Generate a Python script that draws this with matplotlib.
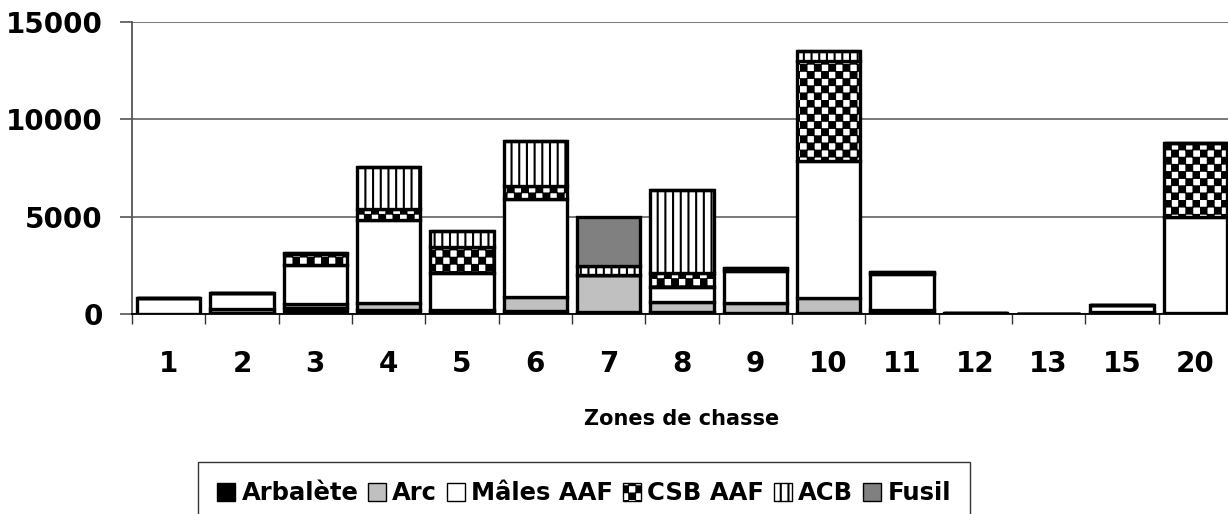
import numpy as np
import matplotlib
matplotlib.use("Agg")
import matplotlib.pyplot as plt
import matplotlib.hatch as mhatch
from matplotlib.path import Path

# ---------------- data ----------------
zones = ['1', '2', '3', '4', '5', '6', '7', '8', '9', '10', '11', '12', '13', '15', '20']
arbalete = [0, 50, 330, 200, 100, 150, 80, 80, 50, 60, 40, 0, 0, 100, 30]
arc = [0, 200, 170, 390, 130, 740, 1920, 550, 500, 780, 160, 0, 0, 0, 30]
males_aaf = [830, 850, 2020, 4240, 1890, 5020, 0, 740, 1680, 7040, 1870, 40, 0, 360, 4900]
csb_aaf = [0, 0, 550, 540, 1310, 670, 0, 720, 80, 5130, 60, 0, 0, 0, 3810]
acb = [0, 0, 50, 2190, 820, 2290, 470, 4300, 60, 510, 50, 0, 0, 0, 0]
fusil = [0, 0, 0, 0, 0, 0, 2530, 0, 0, 0, 0, 0, 0, 0, 0]
series_names = ['Arbalète', 'Arc', 'Mâles AAF', 'CSB AAF', 'ACB', 'Fusil']
y_ticks = [0, 5000, 10000, 15000]


# ---------------- custom hatches (checkerboard + vertical stripes) ----------------
class Checker(mhatch.HatchPatternBase):
    def __init__(self, hatch, density):
        self.n = 14 if '*' in hatch else 0
        self.cells = [(i, j) for i in range(self.n) for j in range(self.n) if (i + j) % 2 == 0]
        self.num_vertices = len(self.cells) * 5

    def set_vertices_and_codes(self, vertices, codes):
        n = self.n
        s = 1.0 / n
        d = 0.0065
        k = 0
        for i, j in self.cells:
            x0, y0 = i * s + d, j * s + d
            x1, y1 = (i + 1) * s - d, (j + 1) * s - d
            vertices[k:k + 5] = [(x0, y0), (x1, y0), (x1, y1), (x0, y1), (x0, y0)]
            codes[k] = Path.MOVETO
            codes[k + 1:k + 4] = Path.LINETO
            codes[k + 4] = Path.CLOSEPOLY
            k += 5


class VLines(mhatch.HatchPatternBase):
    def __init__(self, hatch, density):
        self.n = 13 if '|' in hatch else 0
        self.num_vertices = self.n * 2

    def set_vertices_and_codes(self, vertices, codes):
        xs = np.arange(self.n) / self.n + 0.5 / self.n
        vertices[0::2, 0] = xs
        vertices[0::2, 1] = 0.0
        vertices[1::2, 0] = xs
        vertices[1::2, 1] = 1.0
        codes[0::2] = Path.MOVETO
        codes[1::2] = Path.LINETO


mhatch._hatch_types = [Checker, VLines]

plt.rcParams['hatch.linewidth'] = 1.5
plt.rcParams['hatch.color'] = 'black'
plt.rcParams['font.family'] = ['DejaVu Sans']
plt.rcParams['font.weight'] = 'bold'

# ---------------- figure ----------------
W, H = 1228, 514
fig = plt.figure(figsize=(W / 100, H / 100), dpi=100)
ax = fig.add_axes([132 / W, 1 - 314 / H, 1100 / W, (314 - 22) / H])

x = np.arange(len(zones))
width = 0.86
faces = ['black', '#c0c0c0', 'white', 'white', 'white', '#808080']
hatches = [None, None, None, '*', '|', None]
data = [arbalete, arc, males_aaf, csb_aaf, acb, fusil]

bottom = np.zeros(len(zones))
handles = []
for name, vals, fc, h in zip(series_names, data, faces, hatches):
    vals = np.array(vals, dtype=float)
    b = ax.bar(x, vals, width, bottom=bottom, color=fc, edgecolor='black',
               linewidth=2.4, hatch=h, label=name, zorder=3)
    bottom += vals
    handles.append(b)

ax.set_xlim(-0.5, len(zones) - 0.5)
ax.set_ylim(0, 15000)
ax.set_yticks(y_ticks)
ax.set_yticklabels([str(v) for v in y_ticks], fontsize=20, fontweight='bold')
ax.yaxis.grid(True, color='#6e6e6e', linewidth=1.3, zorder=0)
ax.set_axisbelow(True)
ax.tick_params(axis='y', length=9, width=1.2, color='#555555', pad=12)

ax.set_xticks(x)
ax.set_xticklabels(zones, fontsize=20, fontweight='bold')
ax.tick_params(axis='x', which='major', length=0, pad=26)
ax.set_xticks(np.arange(-0.5, len(zones), 1), minor=True)
ax.tick_params(axis='x', which='minor', length=7, width=1.0, color='#333333')

for s in ['top', 'right']:
    ax.spines[s].set_visible(False)
ax.spines['left'].set_color('#555555')
ax.spines['left'].set_linewidth(1.3)
ax.spines['bottom'].set_color('black')
ax.spines['bottom'].set_linewidth(1.3)

ax.set_xlabel('Zones de chasse', fontsize=15, fontweight='bold', labelpad=22)

leg = fig.legend(handles=handles, labels=series_names, loc='upper center',
                 bbox_to_anchor=(584 / W, 1 - 462 / H), ncol=6, frameon=True,
                 fancybox=False, edgecolor='black', fontsize=17.5,
                 handlelength=0.75, handleheight=0.75, handletextpad=0.25,
                 columnspacing=0.4, borderpad=0.8, borderaxespad=0)
leg.get_frame().set_linewidth(1.0)
for t in leg.get_texts():
    t.set_fontweight('bold')
for p in leg.get_patches():
    p.set_linewidth(1.0)

fig.savefig('out.png', dpi=100)
